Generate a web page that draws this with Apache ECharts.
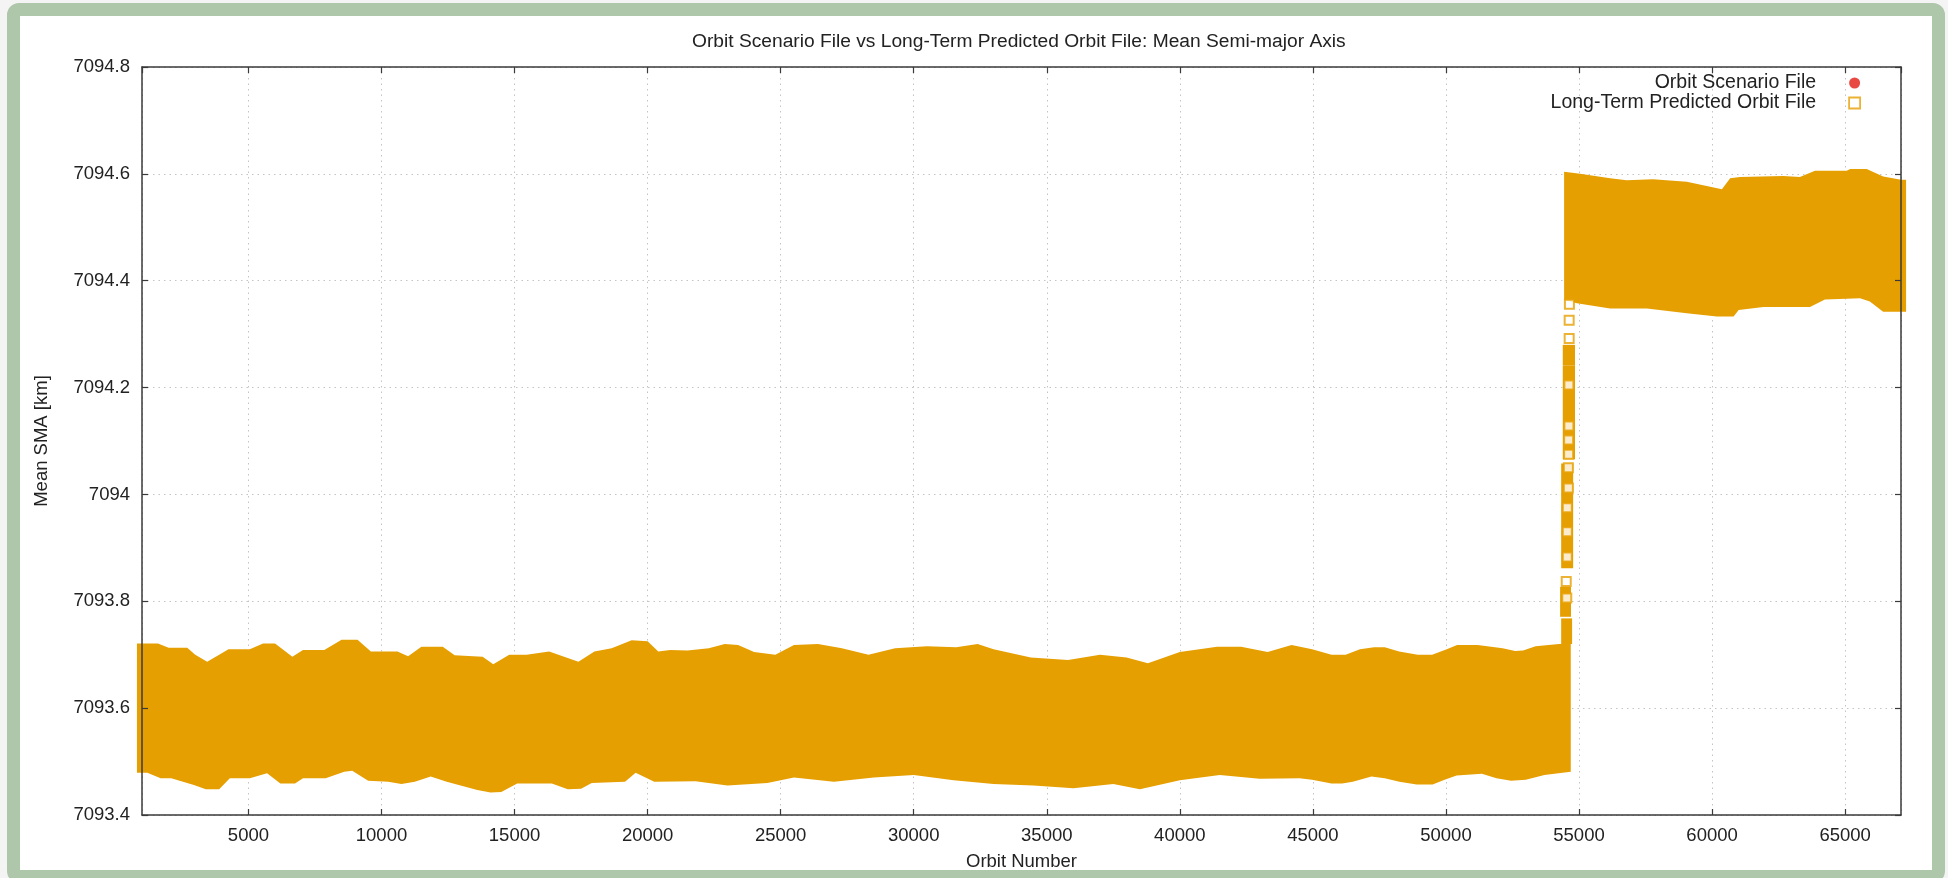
<!DOCTYPE html>
<html>
<head>
<meta charset="utf-8">
<script src="https://cdn.jsdelivr.net/npm/echarts@6/dist/echarts.min.js"></script>
<style>
html,body{margin:0;padding:0;background:#f3f4f3;width:1948px;height:878px;overflow:hidden;}
#frame{position:absolute;left:7px;top:3px;width:1912px;height:854px;border:13px solid #aec6a9;border-radius:12px;background:#fff;}
#c{position:absolute;left:0;top:0;width:1948px;height:878px;}
</style>
</head>
<body>
<div id="frame"></div>
<div id="c"></div>
<script>
// ---- data ----
const xRange = [1000, 67100];
const yRange = [7093.4, 7094.8];
const yStep = 0.2;

// visual envelope of the dense Long-Term Predicted Orbit File points (orbit, mean SMA km)
const lowerBandTop = [[810,7093.721],[1600,7093.721],[2000,7093.713],[2700,7093.713],[3000,7093.700],[3450,7093.687],[3900,7093.700],[4250,7093.710],[5050,7093.710],[5550,7093.721],[6000,7093.721],[6650,7093.696],[7050,7093.709],[7850,7093.709],[8500,7093.728],[9100,7093.728],[9600,7093.706],[10600,7093.706],[11000,7093.697],[11500,7093.715],[12300,7093.715],[12750,7093.699],[13800,7093.696],[14200,7093.682],[14800,7093.700],[15450,7093.700],[16300,7093.706],[17400,7093.687],[18000,7093.706],[18650,7093.712],[19400,7093.727],[20000,7093.725],[20400,7093.706],[20850,7093.709],[21500,7093.708],[22300,7093.712],[22900,7093.720],[23400,7093.718],[24000,7093.705],[24800,7093.700],[25500,7093.718],[26400,7093.720],[27300,7093.712],[28300,7093.700],[29300,7093.712],[30500,7093.716],[31600,7093.714],[32400,7093.720],[33000,7093.710],[34400,7093.695],[35800,7093.690],[37000,7093.700],[38000,7093.695],[38800,7093.684],[40000,7093.705],[41400,7093.715],[42300,7093.715],[43300,7093.705],[44200,7093.718],[44970,7093.710],[45700,7093.700],[46230,7093.700],[46770,7093.710],[47300,7093.714],[47700,7093.714],[48240,7093.706],[48940,7093.700],[49480,7093.700],[50030,7093.710],[50420,7093.718],[51190,7093.718],[52130,7093.712],[52600,7093.707],[52900,7093.708],[53370,7093.716],[54250,7093.720],[54690,7093.720]];
const lowerBandBottom = [[810,7093.479],[1200,7093.479],[1700,7093.469],[2100,7093.469],[2950,7093.456],[3400,7093.448],[3900,7093.448],[4300,7093.469],[5050,7093.469],[5700,7093.478],[6200,7093.459],[6750,7093.459],[7050,7093.469],[7900,7093.469],[8600,7093.481],[8900,7093.483],[9500,7093.464],[10250,7093.462],[10750,7093.458],[11250,7093.462],[11850,7093.472],[12450,7093.462],[13600,7093.447],[14100,7093.442],[14500,7093.443],[15100,7093.459],[16400,7093.459],[17000,7093.448],[17500,7093.449],[17900,7093.460],[19150,7093.462],[19550,7093.479],[20250,7093.462],[21800,7093.463],[23000,7093.455],[24500,7093.460],[25500,7093.470],[27000,7093.462],[28500,7093.470],[30000,7093.475],[31500,7093.465],[33000,7093.458],[34500,7093.455],[36000,7093.450],[37500,7093.458],[38500,7093.448],[40000,7093.465],[41500,7093.475],[43000,7093.468],[44500,7093.469],[44970,7093.466],[45700,7093.459],[46100,7093.459],[46500,7093.462],[47200,7093.472],[47700,7093.469],[48250,7093.462],[48900,7093.457],[49500,7093.457],[49950,7093.466],[50400,7093.474],[51350,7093.477],[51900,7093.469],[52450,7093.464],[53000,7093.466],[53700,7093.475],[54690,7093.481]];
const upperBandTop = [[54440,7094.604],[55040,7094.600],[56170,7094.592],[56790,7094.588],[57780,7094.590],[59050,7094.585],[60370,7094.571],[60680,7094.592],[61050,7094.594],[62670,7094.596],[63300,7094.594],[63870,7094.606],[65060,7094.606],[65190,7094.609],[65810,7094.609],[66430,7094.595],[67100,7094.589],[67290,7094.589]];
const upperBandBottom = [[54440,7094.364],[54920,7094.358],[56170,7094.348],[57550,7094.348],[59050,7094.339],[60180,7094.333],[60810,7094.333],[61000,7094.345],[61930,7094.351],[63680,7094.351],[64240,7094.365],[65560,7094.367],[65930,7094.361],[66430,7094.342],[67100,7094.342],[67290,7094.342]];

// tightly packed runs of points during the jump: [orbit from, orbit to, SMA low, SMA high]
const jumpRuns = [
  [54390, 54850, 7094.242, 7094.280],
  [54390, 54850, 7094.066, 7094.242],
  [54330, 54780, 7093.862, 7094.058],
  [54290, 54700, 7093.771, 7093.827],
  [54330, 54740, 7093.720, 7093.768]
];
// individually visible points of the jump (orbit, mean SMA km)
const jumpOrbit = [54640,54630,54630,54620,54620,54610,54610,54600,54600,54560,54560,54560,54520,54540];
const jumpSMA   = [7094.356,7094.326,7094.292,7094.205,7094.128,7094.102,7094.075,7094.050,7094.012,7093.975,7093.930,7093.883,7093.837,7093.806];

// Orbit Scenario File points are hidden under the predicted-file points
const scenarioPoints = [];

const seriesNames = ['Orbit Scenario File', 'Long-Term Predicted Orbit File'];
const chartTitle = 'Orbit Scenario File vs Long-Term Predicted Orbit File: Mean Semi-major Axis';
const xName = 'Orbit Number';
const yName = 'Mean SMA [km]';

// ---- styling ----
const ORANGE = '#e69f00';
const RED = '#e31b14';
const FONT = 'Liberation Sans, Arial, Helvetica, sans-serif';
const TXT = '#222';
const AX = '#3a3a3a';

const bands = [
  {top: lowerBandTop, bottom: lowerBandBottom},
  {top: upperBandTop, bottom: upperBandBottom}
];

const gridLine = {show: true, lineStyle: {color: '#c4c4c4', width: 1, type: [1.5, 4]}};
const axLine = {show: true, lineStyle: {color: AX, width: 1.5}};
const tickIn = {show: true, inside: true, length: 6, lineStyle: {color: AX, width: 1.2}};
const lblStyle = {color: TXT, fontSize: 18.5, fontFamily: FONT};
const hidden = {show: false};

const chart = echarts.init(document.getElementById('c'), null, {renderer: 'canvas'});
chart.setOption({
  backgroundColor: 'transparent',
  animation: false,
  title: {
    text: chartTitle, left: 692, top: 32, padding: 0,
    textStyle: {color: TXT, fontSize: 19.2, fontWeight: 'normal', fontFamily: FONT}
  },
  legend: {
    orient: 'vertical', right: 87, top: 73, padding: 0, itemGap: 0,
    align: 'right', itemWidth: 11, itemHeight: 11, selectedMode: false,
    textStyle: {color: TXT, fontSize: 19.5, fontFamily: FONT, lineHeight: 18, padding: [0, 28, 0, 0]},
    data: [
      {name: seriesNames[0], icon: 'circle', itemStyle: {color: RED}},
      {name: seriesNames[1], icon: 'rect', itemStyle: {color: '#fff', borderColor: ORANGE, borderWidth: 1.8}}
    ]
  },
  grid: {left: 142, right: 47, top: 67, bottom: 63, containLabel: false},
  xAxis: [{
    type: 'value', min: xRange[0], max: xRange[1], splitNumber: 13, z: 10,
    name: xName, nameLocation: 'middle', nameGap: 37,
    nameTextStyle: {color: TXT, fontSize: 18.5, fontFamily: FONT},
    axisLine: axLine, axisTick: tickIn, splitLine: hidden,
    axisLabel: Object.assign({margin: 11, showMinLabel: false, showMaxLabel: false, formatter: v => String(v)}, lblStyle)
  }, {
    type: 'value', position: 'top', min: xRange[0], max: xRange[1], splitNumber: 13, z: 10,
    axisLine: axLine, axisTick: tickIn, splitLine: hidden, axisLabel: hidden
  }, {
    type: 'value', min: xRange[0], max: xRange[1], splitNumber: 13, z: 0,
    axisLine: hidden, axisTick: hidden, axisLabel: hidden, splitLine: gridLine
  }],
  yAxis: [{
    type: 'value', min: yRange[0], max: yRange[1], interval: yStep, z: 10,
    name: yName, nameLocation: 'middle', nameGap: 91, nameRotate: 90,
    nameTextStyle: {color: TXT, fontSize: 18.5, fontFamily: FONT},
    axisLine: axLine, axisTick: tickIn, splitLine: hidden,
    axisLabel: Object.assign({margin: 12, formatter: v => String(+v.toFixed(1))}, lblStyle)
  }, {
    type: 'value', position: 'right', min: yRange[0], max: yRange[1], interval: yStep, z: 10,
    axisLine: axLine, axisTick: tickIn, splitLine: hidden, axisLabel: hidden
  }, {
    type: 'value', min: yRange[0], max: yRange[1], interval: yStep, z: 0,
    axisLine: hidden, axisTick: hidden, axisLabel: hidden, splitLine: gridLine
  }],
  series: [
    {
      name: seriesNames[0], type: 'scatter', data: scenarioPoints,
      symbol: 'circle', symbolSize: 10, itemStyle: {color: RED}
    },
    {
      name: seriesNames[1] + ' (dense)', type: 'custom', z: 3, clip: false,
      data: bands.map(b => [b.top[1][0], b.top[1][1]]),
      renderItem: (params, api) => {
        const b = bands[params.dataIndex];
        const pts = b.top.map(p => api.coord(p)).concat(b.bottom.slice().reverse().map(p => api.coord(p)));
        return {type: 'polygon', shape: {points: pts}, style: {fill: ORANGE}};
      }
    },
    {
      name: seriesNames[1] + ' (runs)', type: 'custom', z: 3,
      data: jumpRuns,
      encode: {x: [0, 1], y: [2, 3]},
      renderItem: (params, api) => {
        const p0 = api.coord([api.value(0), api.value(3)]);
        const p1 = api.coord([api.value(1), api.value(2)]);
        return {type: 'rect', shape: {x: p0[0], y: p0[1], width: p1[0] - p0[0], height: p1[1] - p0[1]}, style: {fill: ORANGE}};
      }
    },
    {
      name: seriesNames[1], type: 'scatter', z: 4,
      data: jumpOrbit.map((x, i) => [x, jumpSMA[i]]),
      symbol: 'rect', symbolSize: 9,
      itemStyle: {color: '#fff', borderColor: ORANGE, borderWidth: 2}
    }
  ]
});
</script>
</body>
</html>
